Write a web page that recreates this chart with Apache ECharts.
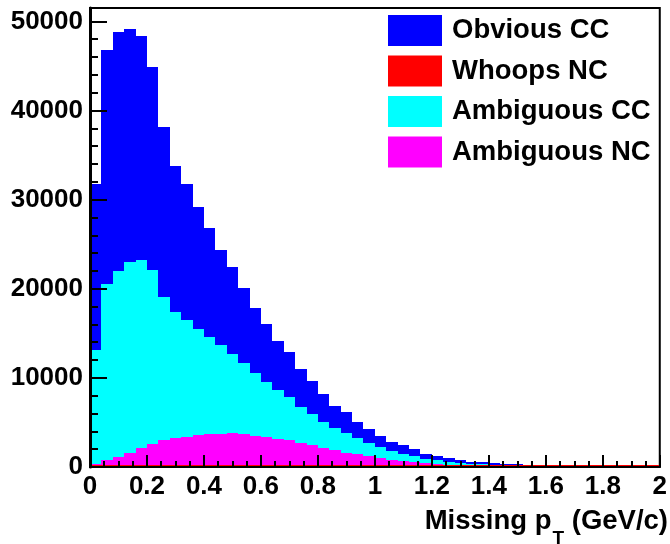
<!DOCTYPE html>
<html>
<head>
<meta charset="utf-8">
<script src="https://cdn.jsdelivr.net/npm/echarts@6/dist/echarts.min.js"></script>
<style>
  html, body { margin: 0; padding: 0; background: #fff; }
  #chart { width: 670px; height: 544px; }
</style>
</head>
<body>
<div id="chart"></div>
<script>
// Histogram binning: 50 bins over 0..2 GeV/c
const nBins = 50;
const xLow = 0;
const xHigh = 2;

// Entries per bin, one array per sample
const obviousCC = [
  18720, 26240, 26860, 26170, 25230, 22850, 19140, 16420, 15250, 13630,
  12230, 10660, 9720, 8450, 7260, 6450, 5510, 5050, 4240, 3610,
  3100, 2480, 2420, 1830, 1610, 1260, 1050, 1020, 820, 560,
  450, 450, 380, 300, 300, 230, 230, 180, 90, 40,
  0, 0, 0, 0, 0, 0, 0, 0, 0, 0
];
const whoopsNC = [
  0, 0, 0, 0, 0, 0, 0, 0, 0, 0,
  0, 0, 0, 0, 0, 0, 0, 0, 0, 0,
  0, 0, 0, 0, 0, 0, 0, 0, 0, 0,
  0, 0, 0, 0, 0, 0, 0, 0, 0, 0,
  0, 0, 0, 0, 0, 0, 0, 0, 0, 0
];
const ambiguousCC = [
  12730, 19810, 20790, 21360, 21090, 19510, 16010, 14150, 13030, 11970,
  10900, 9920, 8860, 7930, 7040, 6170, 5460, 4860, 4040, 3510,
  2870, 2520, 2160, 1780, 1510, 1240, 980, 770, 680, 520,
  420, 320, 250, 140, 150, 100, 60, 50, 50, 10,
  0, 0, 0, 0, 0, 0, 0, 0, 0, 0
];
const ambiguousNC = [
  350, 750, 1150, 1620, 2080, 2540, 3050, 3230, 3420, 3550,
  3670, 3720, 3820, 3720, 3500, 3380, 3180, 2990, 2720, 2480,
  2180, 1900, 1620, 1440, 1180, 1000, 800, 650, 560, 420,
  330, 240, 200, 160, 150, 120, 90, 70, 50, 20,
  0, 0, 0, 0, 0, 0, 0, 0, 0, 0
];

const yTickStep = 10000;
const yMax = 51500;

// Stack order, bottom to top
const stackOrder = [
  { name: 'Whoops NC', values: whoopsNC, color: '#ff0000', outline: true },
  { name: 'Ambiguous NC', values: ambiguousNC, color: '#ff00ff' },
  { name: 'Ambiguous CC', values: ambiguousCC, color: '#00ffff' },
  { name: 'Obvious CC', values: obviousCC, color: '#0000ff' }
];

const binWidth = (xHigh - xLow) / nBins;
const cumulative = new Array(nBins).fill(0);
const stacked = stackOrder.map(s => {
  const rows = s.values.map((v, i) => {
    const lo = xLow + i * binWidth;
    const base = cumulative[i];
    const top = base + v;
    cumulative[i] = top;
    return [lo, lo + binWidth, base, top];
  });
  return Object.assign({}, s, { rows });
});

const FONT = "'Liberation Sans', Arial, Helvetica, sans-serif";

// Draws one histogram bin; edges snapped to whole pixels so neighbouring bins join cleanly
function makeRender(outline) {
  return function (params, api) {
    const p0 = api.coord([api.value(0), api.value(3)]);
    const p1 = api.coord([api.value(1), api.value(2)]);
    const color = api.visual('color');
    const x0 = Math.round(p0[0]), x1 = Math.round(p1[0]);
    const yTop = Math.round(p0[1]), yBase = Math.round(p1[1]);
    const children = [];
    if (yBase - yTop > 0) {
      children.push({
        type: 'rect',
        shape: { x: x0, y: yTop, width: x1 - x0, height: yBase - yTop },
        style: { fill: color }
      });
    }
    if (outline) {
      children.push({
        type: 'line',
        shape: { x1: x0, y1: yTop - 1, x2: x1, y2: yTop - 1 },
        style: { stroke: color, lineWidth: 2 }
      });
    }
    return { type: 'group', children };
  };
}

const series = stacked.map((s, k) => ({
  type: 'custom',
  name: s.name,
  itemStyle: { color: s.color },
  renderItem: makeRender(!!s.outline),
  encode: { x: [0, 1], y: [2, 3] },
  data: s.rows,
  clip: true,
  z: s.outline ? 10 : 2 + k,
  silent: true,
  animation: false
}));

const chart = echarts.init(document.getElementById('chart'), null, { renderer: 'canvas' });
chart.setOption({
  backgroundColor: '#ffffff',
  animation: false,
  grid: {
    left: 90, right: 1, top: 8, bottom: 77,
    show: true, borderColor: '#000', borderWidth: 2, backgroundColor: '#fff'
  },
  legend: {
    orient: 'vertical',
    left: 388,
    top: 15,
    padding: 0,
    itemWidth: 54,
    itemHeight: 31,
    itemGap: 9.5,
    icon: 'rect',
    data: ['Obvious CC', 'Whoops NC', 'Ambiguous CC', 'Ambiguous NC'],
    textStyle: {
      fontFamily: FONT, fontSize: 27.5, fontWeight: 'bold', color: '#000',
      padding: [2, 0, 0, 5]
    },
    selectedMode: false
  },
  xAxis: {
    type: 'value',
    min: xLow,
    max: xHigh,
    interval: 0.2,
    z: 20,
    axisLine: { show: true, lineStyle: { color: '#000', width: 2 } },
    axisTick: { show: true, inside: true, length: 12, lineStyle: { color: '#000', width: 2 } },
    minorTick: { show: true, splitNumber: 4, length: 6, lineStyle: { color: '#000', width: 2 } },
    splitLine: { show: false },
    axisLabel: {
      margin: 7, fontFamily: FONT, fontSize: 26, fontWeight: 'bold', color: '#000'
    }
  },
  yAxis: {
    type: 'value',
    min: 0,
    max: yMax,
    interval: yTickStep,
    z: 20,
    axisLine: { show: true, lineStyle: { color: '#000', width: 3 } },
    axisTick: { show: true, inside: true, length: 17, lineStyle: { color: '#000', width: 2 } },
    minorTick: { show: true, splitNumber: 5, length: 8, lineStyle: { color: '#000', width: 2 } },
    splitLine: { show: false },
    axisLabel: {
      margin: 7, fontFamily: FONT, fontSize: 26, fontWeight: 'bold', color: '#000',
      formatter: v => (v % yTickStep === 0 ? String(v) : '')
    }
  },
  graphic: [{
    type: 'text',
    right: 2,
    top: 507,
    style: {
      text: '{a|Missing p}{s|T}{a| (GeV/c)}',
      rich: {
        a: { fontFamily: FONT, fontSize: 27.5, fontWeight: 'bold', fill: '#000', lineHeight: 30, verticalAlign: 'top' },
        s: { fontFamily: FONT, fontSize: 19, fontWeight: 'bold', fill: '#000', lineHeight: 30, padding: [22, 0, 0, 1], verticalAlign: 'top' }
      }
    }
  }],
  series
});
</script>
</body>
</html>
